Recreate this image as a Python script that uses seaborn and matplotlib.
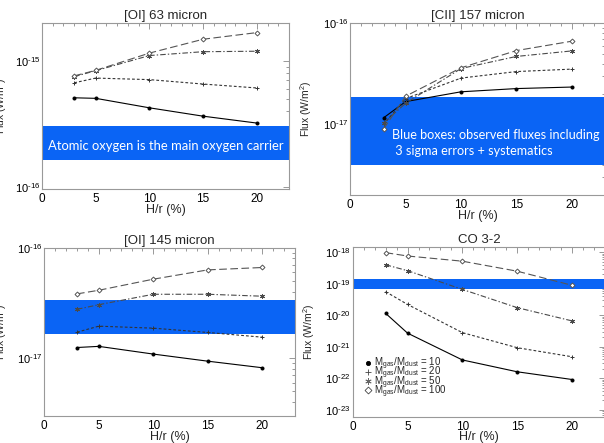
import numpy as np
import pandas as pd
import matplotlib
matplotlib.use("Agg")
import matplotlib.pyplot as plt
import seaborn as sns
from matplotlib.ticker import MultipleLocator, LogLocator, NullFormatter, FuncFormatter
from matplotlib.lines import Line2D

sns.set_style("white")
plt.rcParams['font.family'] = ['Liberation Sans', 'DejaVu Sans']
plt.rcParams['lines.scale_dashes'] = False
plt.rcParams['mathtext.fontset'] = 'custom'
plt.rcParams['mathtext.rm'] = 'Liberation Sans'
plt.rcParams['mathtext.it'] = 'Liberation Sans'

# ---------------- data ----------------
H_r = [3, 5, 10, 15, 20]
ratios = [10, 20, 50, 100]

oi63_r10 = [5.1e-16, 5.05e-16, 4.25e-16, 3.65e-16, 3.22e-16]
oi63_r20 = [6.7e-16, 7.3e-16, 7.1e-16, 6.55e-16, 6.1e-16]
oi63_r50 = [7.5e-16, 8.35e-16, 1.10e-15, 1.18e-15, 1.19e-15]
oi63_r100 = [7.6e-16, 8.4e-16, 1.15e-15, 1.48e-15, 1.67e-15]
oi63_box = [1.63e-16, 3.08e-16]

cii157_r10 = [1.16e-17, 1.68e-17, 2.10e-17, 2.26e-17, 2.34e-17]
cii157_r20 = [1.0e-17, 1.80e-17, 2.87e-17, 3.33e-17, 3.52e-17]
cii157_r50 = [1.03e-17, 1.62e-17, 3.57e-17, 4.7e-17, 5.33e-17]
cii157_r100 = [9.0e-18, 1.9e-17, 3.63e-17, 5.37e-17, 6.65e-17]
cii157_box = [4.0e-18, 1.86e-17]

oi145_r10 = [1.25e-17, 1.28e-17, 1.09e-17, 9.4e-18, 8.2e-18]
oi145_r20 = [1.72e-17, 1.95e-17, 1.87e-17, 1.71e-17, 1.55e-17]
oi145_r50 = [2.77e-17, 3.05e-17, 3.79e-17, 3.79e-17, 3.64e-17]
oi145_r100 = [3.82e-17, 4.12e-17, 5.19e-17, 6.3e-17, 6.62e-17]
oi145_box = [1.66e-17, 3.39e-17]

co32_r10 = [1.15e-20, 2.7e-21, 3.8e-22, 1.6e-22, 9.1e-23]
co32_r20 = [5.6e-20, 2.2e-20, 2.8e-21, 9.3e-22, 4.8e-22]
co32_r50 = [4.0e-19, 2.6e-19, 6.6e-20, 1.74e-20, 6.6e-21]
co32_r100 = [9.7e-19, 7.6e-19, 5.2e-19, 2.5e-19, 8.9e-20]
co32_box = [6.6e-20, 1.38e-19]

titles = ["[OI] 63 micron", "[CII] 157 micron", "[OI] 145 micron", "CO 3-2"]
xlabel = "H/r (%)"
ylabel = r"Flux (W/m$^2$)"
legend_labels = [r"M$_{\rm gas}$/M$_{\rm dust}$ = " + str(r) for r in ratios]
note1 = "Atomic oxygen is the main oxygen carrier"
note2a = "Blue boxes: observed fluxes including"
note2b = " 3 sigma errors + systematics"

panels = [
    (titles[0], [oi63_r10, oi63_r20, oi63_r50, oi63_r100], oi63_box, (0.97e-16, 2e-15)),
    (titles[1], [cii157_r10, cii157_r20, cii157_r50, cii157_r100], cii157_box, (2e-18, 1e-16)),
    (titles[2], [oi145_r10, oi145_r20, oi145_r50, oi145_r100], oi145_box, (3e-18, 1e-16)),
    (titles[3], [co32_r10, co32_r20, co32_r50, co32_r100], co32_box, (6e-24, 1.5e-18)),
]

# ---------------- styles ----------------
blue = "#0a64f5"
line_colors = ["#000000", "#333333", "#4a4a4a", "#555555"]
line_styles = ["-", (0, (2.0, 1.5)), (0, (4, 1.5, 1, 1.5)), (0, (5.5, 2.5))]
markers = ["o", "+", (6, 2, 0), "D"]
msizes = [2.2, 3.5, 3.5, 2.5]
mfc = ["#000000", "none", "none", "white"]


def decade_fmt(v, pos):
    e = int(round(np.log10(v)))
    sign = "\u2010" if e < 0 else ""
    return "10$^{" + sign + str(abs(e)) + "}$"


W, H = 604, 443
fig = plt.figure(figsize=(W / 100, H / 100), dpi=100)
rects = [
    (42, 22.7, 289, 189),
    (350.3, 23.3, 605, 195),
    (44.3, 247.7, 295, 416),
    (352.7, 246.7, 605, 416.7),
]
ylabel_x = [-0.132, -0.144, -0.139, -0.143]
axes = []
for (x0, y0, x1, y1) in rects:
    axes.append(fig.add_axes([x0 / W, 1 - y1 / H, (x1 - x0) / W, (y1 - y0) / H]))

for k, (ax, (title, series, box, ylim)) in enumerate(zip(axes, panels)):
    ax.axhspan(box[0], box[1], color=blue, lw=0, zorder=1)
    for i, vals in enumerate(series):
        df = pd.DataFrame({"H": H_r, "flux": vals})
        sns.lineplot(data=df, x="H", y="flux", ax=ax, color=line_colors[i],
                     linestyle=line_styles[i], lw=0.8, marker=markers[i],
                     markersize=msizes[i], markerfacecolor=mfc[i],
                     markeredgecolor=line_colors[i], markeredgewidth=0.7,
                     zorder=3)
    ax.set_yscale("log")
    ax.set_xlim(0, 23)
    ax.set_ylim(*ylim)
    ax.set_xticks([0, 5, 10, 15, 20])
    ax.xaxis.set_minor_locator(MultipleLocator(1))
    ax.yaxis.set_major_locator(LogLocator(base=10, numticks=20))
    ax.yaxis.set_major_formatter(FuncFormatter(decade_fmt))
    ax.yaxis.set_minor_locator(LogLocator(base=10, subs=np.arange(2, 10), numticks=100))
    ax.yaxis.set_minor_formatter(NullFormatter())
    ax.tick_params(which="both", direction="in", top=True, right=True,
                   colors="#888888", labelcolor="black", width=0.6)
    ax.tick_params(axis="x", which="major", labelsize=8.5, pad=3)
    ax.tick_params(axis="y", which="major", labelsize=8, pad=1.5)
    ax.tick_params(which="major", length=4)
    ax.tick_params(which="minor", length=2)
    for s in ax.spines.values():
        s.set_color("#999999")
        s.set_linewidth(0.8)
    ax.set_title(title, fontsize=9.5, pad=3)
    ax.set_xlabel(xlabel, fontsize=9, labelpad=-1)
    ax.set_ylabel(ylabel, fontsize=7.5)
    ax.yaxis.set_label_coords(ylabel_x[k], 0.5)

axes[0].text(0.5, 0.26, note1, transform=axes[0].transAxes, ha="center", va="center",
             color="white", fontsize=9.4, family=["Lato", "DejaVu Sans"], zorder=5)
axes[1].text(0.164, 0.349, note2a, transform=axes[1].transAxes, ha="left", va="center",
             color="white", fontsize=9.1, family=["Lato", "DejaVu Sans"], zorder=5)
axes[1].text(0.164, 0.258, note2b, transform=axes[1].transAxes, ha="left", va="center",
             color="white", fontsize=9.1, family=["Lato", "DejaVu Sans"], zorder=5)

handles = [Line2D([], [], linestyle="none", marker=markers[i], markersize=[3, 4.5, 4.5, 3.5][i],
                  markerfacecolor=["black", "none", "none", "white"][i],
                  markeredgecolor=["black", "#444444", "#666666", "#444444"][i],
                  markeredgewidth=0.6) for i in range(4)]
axes[3].legend(handles, legend_labels, loc="lower left", bbox_to_anchor=(0.05, 0.10),
               frameon=False, fontsize=7.0, handlelength=0.6, handletextpad=0.3,
               labelspacing=-0.75, borderpad=0, borderaxespad=0)

fig.savefig("out.png", dpi=100)
